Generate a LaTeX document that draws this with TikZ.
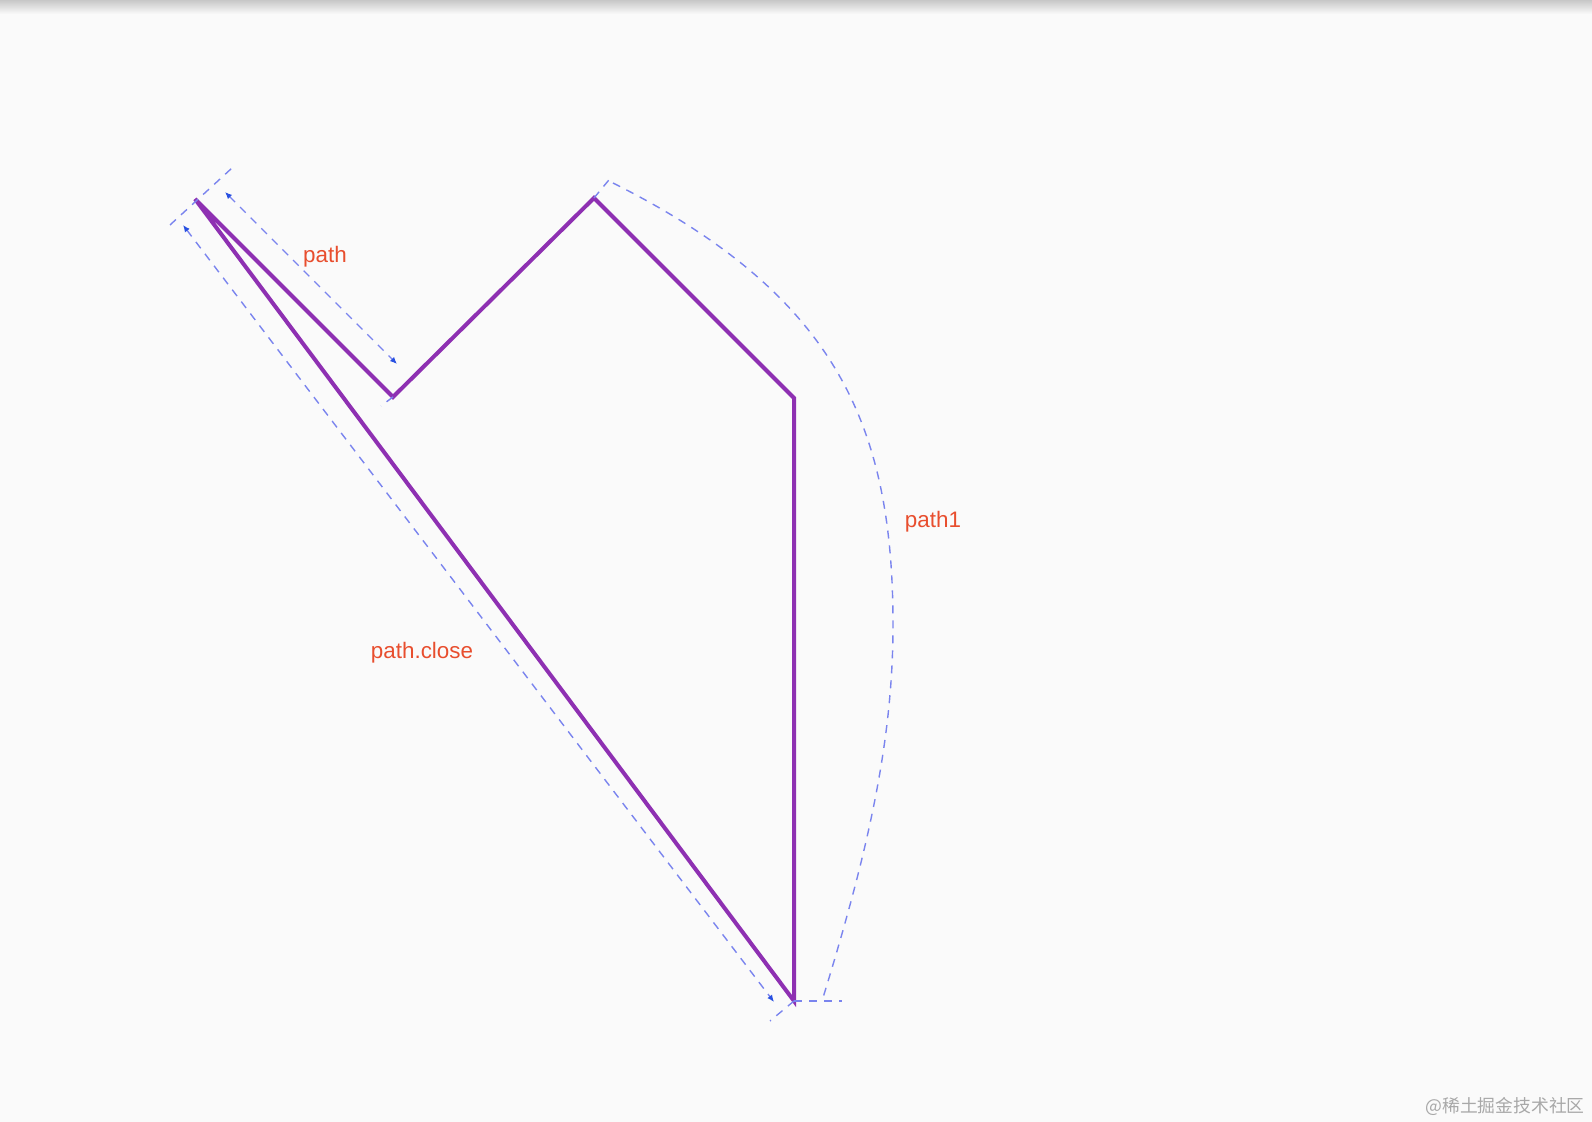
\documentclass[tikz,border=0pt]{standalone}
\usepackage{fontspec}
\setmainfont{Liberation Sans}
\newfontfamily\cjkfont{Noto Sans CJK SC}
\usetikzlibrary{calc, arrows.meta}
\definecolor{bgwhite}{RGB}{250,250,250}
\definecolor{pathpurple}{RGB}{142,48,178}
\definecolor{dimblue}{RGB}{122,132,238}
\definecolor{tipblue}{RGB}{40,80,225}
\definecolor{labelred}{RGB}{232,78,46}
\definecolor{markgrey}{RGB}{168,168,168}

\begin{document}
\begin{tikzpicture}[x=0.5pt, y=-0.5pt,
        outline/.style={line width=2pt, color=pathpurple, line join=miter},
        guide/.style={line width=0.7pt, color=dimblue, dash pattern=on 4pt off 3.5pt},
        measure/.style={guide, {Latex[length=3.5pt,width=3pt,color=tipblue]}-{Latex[length=3.5pt,width=3pt,color=tipblue]}},
        tag/.style={text=labelred, font=\fontsize{11.2}{13}\selectfont}]
    \useasboundingbox (0,0) rectangle (1592,1122);
    \fill[bgwhite] (0,0) rectangle (1592,1122);
    \shade[top color=black!22, bottom color=bgwhite] (0,0) rectangle (1592,14);

    % corners of the path
    \coordinate (A) at (195,199);
    \coordinate (B) at (393,397);
    \coordinate (C) at (594,198);
    \coordinate (D) at (794,398);
    \coordinate (E) at (794,1001);

    \draw[outline] (A) -- (B) -- (C) -- (D) -- (E) -- cycle;

    % extension lines
    \draw[guide] ($(A)+(-25,26)$) -- ($(A)+(37,-31)$);
    \draw[guide] (B) -- ++(-12,9);
    \draw[guide] (C) -- ++(19,-23);
    \draw[guide] (E) -- ++(-24,20);
    \draw[guide] (E) -- ++(48,0);

    % measures
    \draw[measure] ($(A)+(30,-7)$) -- ($(B)+(4,-33)$);
    \draw[measure] ($(A)+(-12,26)$) -- ($(E)+(-20,1)$);
    \draw[guide] ($(C)+(19,-15)$) .. controls (836,295) and (893,425) .. (893,625)
        .. controls (893,745) and (866,858) .. ($(E)+(28,0)$);

    \node[tag] (pathlbl)  at (325,257) {path};
    \node[tag] (path1lbl) at (933,522) {path1};
    \node[tag] (closelbl) at (422,653) {path.close};

    \node[text=markgrey, font=\cjkfont\fontsize{8.9}{11}\selectfont] (mark) at (1505,1106) {@稀土掘金技术社区};
\end{tikzpicture}
\end{document}
